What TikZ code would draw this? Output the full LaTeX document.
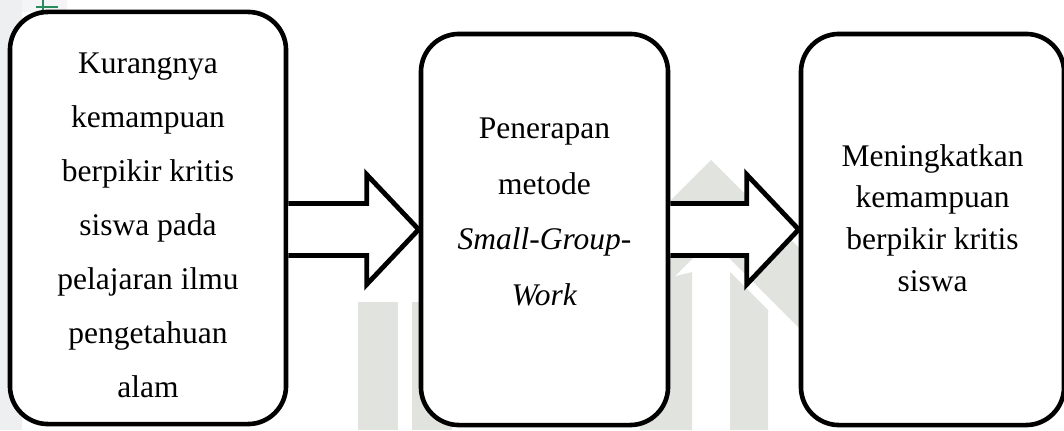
\documentclass[tikz,border=0pt]{standalone}
\usepackage{fontspec}
\setmainfont{Liberation Serif}
\usetikzlibrary{calc}

\definecolor{wmgray}{RGB}{225,227,223}
\definecolor{sidegray}{RGB}{238,239,241}
\definecolor{leafgreen}{RGB}{40,140,95}

\begin{document}
\begin{tikzpicture}[x=0.025cm,y=0.025cm,
    box/.style={draw,line width=0.115cm,rounded corners=0.95cm,fill=white,inner sep=0pt},
    txt/.style={align=center,inner sep=0pt,font=\fontsize{22.4}{38.4}\selectfont},
    blockarrow/.style={draw,fill=white,line width=0.12cm},
    wmshape/.style={fill=wmgray}]
    \useasboundingbox (0,0) rectangle (1064,430);
    \clip (0,0) rectangle (1064,430);

    % faint page background
    \fill[sidegray] (0,0) rectangle (22,430);
    \fill[sidegray!60] (22,418) rectangle (67,430);
    \draw[leafgreen,line width=1.3pt] (36,423) -- (58,423);
    \draw[leafgreen,line width=1.3pt] (43,430) -- (43,419);
    \fill[wmshape] (358,0) rectangle (398,128);
    \fill[wmshape] (412,0) rectangle (452,128);
    \fill[wmshape] (711,270) -- (830,151) -- (830,71) -- (711,190) -- (592,71) -- (592,151) -- cycle;
    \fill[wmshape] (640,0) -- (640,145) -- (692,158) -- (692,0) -- cycle;
    \fill[wmshape] (730,0) -- (730,158) -- (768,120) -- (768,0) -- cycle;

    % boxes
    \node[box,minimum width=6.9cm,minimum height=10.3cm] (b1) at (148,212) {};
    \node[box,minimum width=6.175cm,minimum height=9.775cm] (b2) at (544.5,200.5) {};
    \node[box,minimum width=6.575cm,minimum height=9.775cm] (b3) at (932.5,200.5) {};

    \node[txt] (t1) at (148,205) {Kurangnya\\kemampuan\\berpikir kritis\\siswa pada\\pelajaran ilmu\\pengetahuan\\alam};
    \node[txt,font=\fontsize{22.4}{39.6}\selectfont] (t2) at (544.5,218) {Penerapan\\metode\\\textit{Small-Group-}\\\textit{Work}};
    \node[txt,font=\fontsize{22.4}{29.6}\selectfont] (t3) at (932.5,212) {Meningkatkan\\kemampuan\\berpikir kritis\\siswa};

    % block arrows
    \coordinate (s1) at (b1.east |- b2.west);
    \coordinate (s2) at (b2.east);
    \filldraw[blockarrow] ($(s1)+(0,26)$) -- ($(b2.west)+(-52,26)$) -- ($(b2.west)+(-52,55)$) -- (b2.west)
        -- ($(b2.west)+(-52,-55)$) -- ($(b2.west)+(-52,-26)$) -- ($(s1)+(0,-26)$);
    \filldraw[blockarrow] ($(s2)+(0,26)$) -- ($(b3.west)+(-52,26)$) -- ($(b3.west)+(-52,55)$) -- (b3.west)
        -- ($(b3.west)+(-52,-55)$) -- ($(b3.west)+(-52,-26)$) -- ($(s2)+(0,-26)$);
\end{tikzpicture}
\end{document}
